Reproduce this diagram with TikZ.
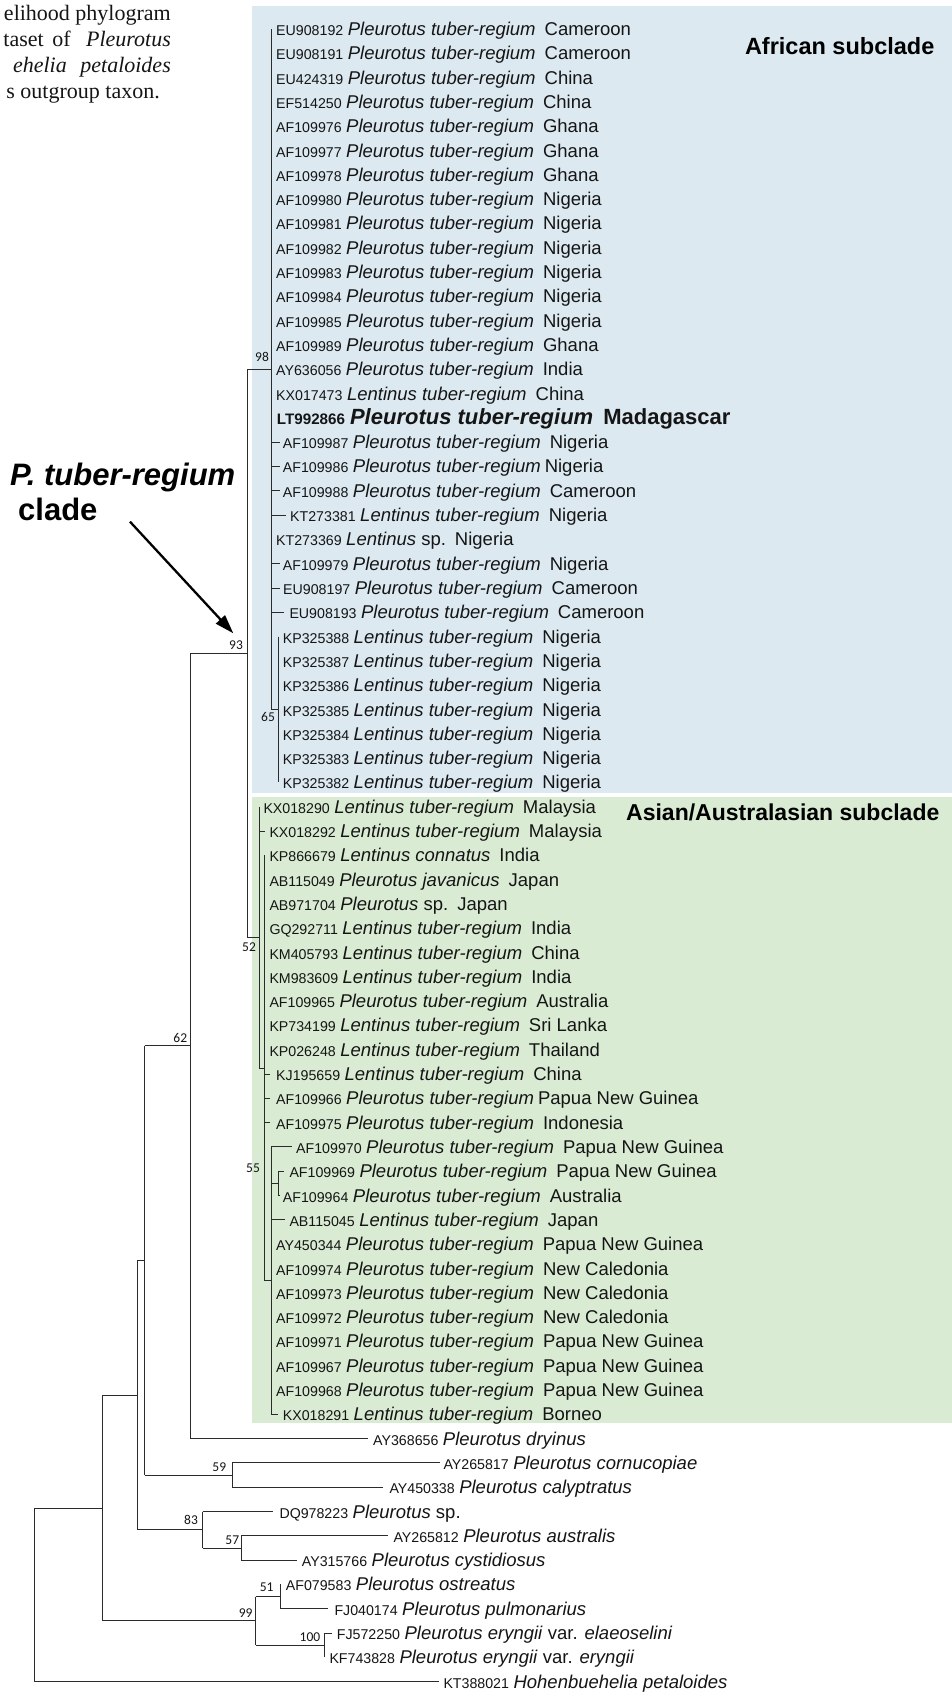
\documentclass[tikz,border=0pt]{standalone}
\usepackage{fontspec}
\setmainfont{Liberation Sans}
\newfontfamily\capfont{Liberation Serif}
\newfontfamily\bsfont{Carlito}
\usetikzlibrary{arrows.meta}
\definecolor{afr}{HTML}{DCE9F1}
\definecolor{asi}{HTML}{DAEBD4}
\definecolor{ln}{HTML}{2B2B2B}
\definecolor{tx}{HTML}{151515}
\newcommand\Y[1]{(29+24.304*(#1))}
\newcommand\acc[1]{{\fontsize{14.2}{14.2}\selectfont #1}\hspace{4.5pt}}
\newcommand\ptr{\textit{Pleurotus tuber-regium}}
\newcommand\ltr{\textit{Lentinus tuber-regium}}
\newcommand\cty[1]{\hspace{9pt}#1}
\newcommand\ctz[1]{\hspace{4pt}#1}
% zero-length leaf: row, xlabel, text
\newcommand\lz[3]{\node[leaflab] (t#1) at (#2,{\Y{#1}}) {#3};}
% leaf with branch: row, x0, x1, xlabel, text
\newcommand\lb[5]{\coordinate (p#1) at (#2,{\Y{#1}});\coordinate (b#1) at (#3,{\Y{#1}});
  \draw[br] (p#1) -- (b#1); \node[leaflab] (t#1) at (#4,{\Y{#1}}) {#5};}
\begin{document}
\begin{tikzpicture}[x=1pt,y=-1pt,
  br/.style={draw=ln,line width=1pt},
  leaflab/.style={anchor=west,inner sep=0pt,text height=13pt,text depth=0pt,text=tx,font=\fontsize{18.5}{18.5}\selectfont},
  bsv/.style={inner sep=0pt,text=tx,font=\bsfont\fontsize{13.5}{13.5}\selectfont},
  captxt/.style={inner sep=0pt,text=tx,font=\capfont\fontsize{22}{22}\selectfont},
  ttl/.style={inner sep=0pt,text=black,anchor=base west,font=\fontsize{23}{23}\selectfont\bfseries}]
\useasboundingbox (0,0) rectangle (952,1692);
\fill[white] (0,0) rectangle (952,1692);
\fill[afr] (251.7,6) rectangle (952,792.7);
\fill[asi] (251.7,796.7) rectangle (952,1423.3);

% caption fragment
\node[captxt,anchor=base east] (c1) at (171,20) {elihood phylogram};
\node[captxt,anchor=base east] (c2a) at (44,46) {taset};
\node[captxt,anchor=base east] (c2b) at (71,46) {of};
\node[captxt,anchor=base east] (c2c) at (171,46) {\itshape Pleurotus};
\node[captxt,anchor=base east] (c3a) at (67,72) {\itshape ehelia};
\node[captxt,anchor=base east] (c3b) at (171,72) {\itshape petaloides};
\node[captxt,anchor=base east] (c4) at (160,98) {s outgroup taxon.};

% subclade titles
\node[ttl,font=\fontsize{23.5}{23.5}\selectfont\bfseries] (afrT) at (744.8,54.6) {African subclade};
\node[ttl] (asiT) at (626,820) {Asian/Australasian subclade};

% clade label and arrow
\node[inner sep=0pt,anchor=base west,font=\fontsize{31}{31}\selectfont\bfseries\itshape] (ptl) at (10,485.5) {P. tuber-regium};
\node[inner sep=0pt,anchor=base west,font=\fontsize{31}{31}\selectfont\bfseries] (cll) at (18,520) {clade};
\coordinate (arS) at (130,521.7);
\coordinate (arE) at (233.3,633.3);
\draw[line width=2.3pt,black,-{Triangle[length=19pt,width=12pt]}] (arS) -- (arE);

% node heights
\pgfmathsetmacro\nF{(\Y{46}+\Y{57})/2}
\pgfmathsetmacro\nX{(\Y{34}+\nF)/2}
\pgfmathsetmacro\nFT{(\Y{32}+\nX)/2}
\pgfmathsetmacro\nSF{(\Y{25}+\Y{31})/2}
\pgfmathsetmacro\nNE{(\Y{0}+\nSF)/2}
\pgfmathsetmacro\nNT{(\nNE+\nFT)/2}
\pgfmathsetmacro\nSX{(\nNT+\Y{58})/2}
\pgfmathsetmacro\nFN{(\Y{59}+\Y{60})/2}
\pgfmathsetmacro\nA{(\nSX+\nFN)/2}
\pgfmathsetmacro\nFS{(\Y{62}+\Y{63})/2}
\pgfmathsetmacro\nET{(\Y{61}+\nFS)/2}
\pgfmathsetmacro\nB{(\nA+\nET)/2}
\pgfmathsetmacro\nFO{(\Y{64}+\Y{65})/2}
\pgfmathsetmacro\nH{(\Y{66}+\Y{67})/2}
\pgfmathsetmacro\nNN{(\nFO+\nH)/2}
\pgfmathsetmacro\nC{(\nB+\nNN)/2}

% internal node coordinates
\coordinate (N65) at (278.3,\nSF);
\coordinate (N98) at (271.5,\nNE);
\coordinate (N93) at (247.3,\nNT);
\coordinate (N52) at (259,\nFT);
\coordinate (NX) at (264.3,\nX);
\coordinate (N55) at (271,\nF);
\coordinate (N62) at (190.7,\nSX);
\coordinate (N59) at (232.3,\nFN);
\coordinate (NA) at (144.7,\nA);
\coordinate (N57) at (241.3,\nFS);
\coordinate (N83) at (202.7,\nET);
\coordinate (NB) at (137.3,\nB);
\coordinate (N51) at (280,\nFO);
\coordinate (N100) at (324.3,\nH);
\coordinate (N99) at (255.7,\nNN);
\coordinate (NC) at (102.3,\nC);
\coordinate (R) at (34,\nC);

% verticals
\draw[br] (271.5,{\Y{0}}) -- (271.5,\nSF);
\draw[br] (278.3,{\Y{25}}) -- (278.3,{\Y{31}});
\draw[br] (247.3,\nNE) -- (247.3,\nFT);
\draw[br] (259,{\Y{32}}) -- (259,\nX);
\draw[br] (264.3,{\Y{34}}) -- (264.3,\nF);
\draw[br] (271,{\Y{46}}) -- (271,{\Y{57}});
\draw[br] (278.3,{\Y{47}}) -- (278.3,{\Y{48}});
\draw[br] (190.7,\nNT) -- (190.7,{\Y{58}});
\draw[br] (232.3,{\Y{59}}) -- (232.3,{\Y{60}});
\draw[br] (144.7,\nSX) -- (144.7,\nFN);
\draw[br] (241.3,{\Y{62}}) -- (241.3,{\Y{63}});
\draw[br] (202.7,{\Y{61}}) -- (202.7,\nFS);
\draw[br] (137.3,\nA) -- (137.3,\nET);
\draw[br] (280,{\Y{64}}) -- (280,{\Y{65}});
\draw[br] (324.3,{\Y{66}}) -- (324.3,{\Y{67}});
\draw[br] (255.7,\nFO) -- (255.7,\nH);
\draw[br] (102.3,\nB) -- (102.3,\nNN);
\draw[br] (34,\nC) -- (34,{\Y{68}});

% stems
\draw[br] (271.5,\nSF) -- (N65);
\draw[br] (247.3,\nNE) -- (N98);
\draw[br] (190.7,\nNT) -- (N93);
\draw[br] (247.3,\nFT) -- (N52);
\draw[br] (259,\nX) -- (NX);
\draw[br] (264.3,\nF) -- (N55);
\coordinate (N69) at (278.3,{(\Y{47}+\Y{48})/2});
\draw[br] (271,{(\Y{47}+\Y{48})/2}) -- (N69);
\draw[br] (144.7,\nSX) -- (N62);
\draw[br] (144.7,\nFN) -- (N59);
\draw[br] (137.3,\nA) -- (NA);
\draw[br] (202.7,\nFS) -- (N57);
\draw[br] (137.3,\nET) -- (N83);
\draw[br] (102.3,\nB) -- (NB);
\draw[br] (255.7,\nFO) -- (N51);
\draw[br] (255.7,\nH) -- (N100);
\draw[br] (102.3,\nNN) -- (N99);
\draw[br] (R) -- (NC);

% African leaves
\lz{0}{276}{\acc{EU908192}\ptr\cty{Cameroon}}
\lz{1}{276}{\acc{EU908191}\ptr\cty{Cameroon}}
\lz{2}{276}{\acc{EU424319}\ptr\cty{China}}
\lz{3}{276}{\acc{EF514250}\ptr\cty{China}}
\lz{4}{276}{\acc{AF109976}\ptr\cty{Ghana}}
\lz{5}{276}{\acc{AF109977}\ptr\cty{Ghana}}
\lz{6}{276}{\acc{AF109978}\ptr\cty{Ghana}}
\lz{7}{276}{\acc{AF109980}\ptr\cty{Nigeria}}
\lz{8}{276}{\acc{AF109981}\ptr\cty{Nigeria}}
\lz{9}{276}{\acc{AF109982}\ptr\cty{Nigeria}}
\lz{10}{276}{\acc{AF109983}\ptr\cty{Nigeria}}
\lz{11}{276}{\acc{AF109984}\ptr\cty{Nigeria}}
\lz{12}{276}{\acc{AF109985}\ptr\cty{Nigeria}}
\lz{13}{276}{\acc{AF109989}\ptr\cty{Ghana}}
\lz{14}{276}{\acc{AY636056}\ptr\cty{India}}
\lz{15}{276}{\acc{KX017473}\ltr\cty{China}}
\lz{16}{276.7}{\bfseries{\fontsize{15.2}{15.2}\selectfont LT992866}\hspace{5pt}{\fontsize{22}{22}\selectfont\itshape Pleurotus tuber-regium\upshape\hspace{10pt}Madagascar}}
\lb{17}{271.5}{280}{282.7}{\acc{AF109987}\ptr\cty{Nigeria}}
\lb{18}{271.5}{280}{282.7}{\acc{AF109986}\ptr\ctz{Nigeria}}
\lb{19}{271.5}{280}{282.7}{\acc{AF109988}\ptr\cty{Cameroon}}
\lb{20}{271.5}{286}{290}{\acc{KT273381}\ltr\cty{Nigeria}}
\lz{21}{276}{\acc{KT273369}\textit{Lentinus} sp.\cty{Nigeria}}
\lb{22}{271.5}{280}{282.7}{\acc{AF109979}\ptr\cty{Nigeria}}
\lb{23}{271.5}{280}{283}{\acc{EU908197}\ptr\cty{Cameroon}}
\lb{24}{271.5}{284}{289.3}{\acc{EU908193}\ptr\cty{Cameroon}}
\lz{25}{282.7}{\acc{KP325388}\ltr\cty{Nigeria}}
\lz{26}{282.7}{\acc{KP325387}\ltr\cty{Nigeria}}
\lz{27}{282.7}{\acc{KP325386}\ltr\cty{Nigeria}}
\lz{28}{282.7}{\acc{KP325385}\ltr\cty{Nigeria}}
\lz{29}{282.7}{\acc{KP325384}\ltr\cty{Nigeria}}
\lz{30}{282.7}{\acc{KP325383}\ltr\cty{Nigeria}}
\lz{31}{282.7}{\acc{KP325382}\ltr\cty{Nigeria}}

% Asian leaves
\lz{32}{263.3}{\acc{KX018290}\ltr\cty{Malaysia}}
\lb{33}{259}{265}{269.3}{\acc{KX018292}\ltr\cty{Malaysia}}
\lz{34}{269.3}{\acc{KP866679}\textit{Lentinus connatus}\cty{India}}
\lz{35}{269.3}{\acc{AB115049}\textit{Pleurotus javanicus}\cty{Japan}}
\lz{36}{269.3}{\acc{AB971704}\textit{Pleurotus} sp.\cty{Japan}}
\lz{37}{269.3}{\acc{GQ292711}\ltr\cty{India}}
\lz{38}{269.3}{\acc{KM405793}\ltr\cty{China}}
\lz{39}{269.3}{\acc{KM983609}\ltr\cty{India}}
\lz{40}{269.3}{\acc{AF109965}\ptr\cty{Australia}}
\lz{41}{269.3}{\acc{KP734199}\ltr\cty{Sri Lanka}}
\lz{42}{269.3}{\acc{KP026248}\ltr\cty{Thailand}}
\lb{43}{264.3}{270}{276}{\acc{KJ195659}\ltr\cty{China}}
\lb{44}{264.3}{270}{276}{\acc{AF109966}\ptr\ctz{Papua New Guinea}}
\lb{45}{264.3}{270}{276}{\acc{AF109975}\ptr\cty{Indonesia}}
\lb{46}{271}{291.7}{296}{\acc{AF109970}\ptr\cty{Papua New Guinea}}
\lb{47}{278.3}{284}{289.3}{\acc{AF109969}\ptr\cty{Papua New Guinea}}
\lb{48}{278.3}{280}{282.7}{\acc{AF109964}\ptr\cty{Australia}}
\lb{49}{271}{285}{289.3}{\acc{AB115045}\ltr\cty{Japan}}
\lz{50}{276}{\acc{AY450344}\ptr\cty{Papua New Guinea}}
\lz{51}{276}{\acc{AF109974}\ptr\cty{New Caledonia}}
\lz{52}{276}{\acc{AF109973}\ptr\cty{New Caledonia}}
\lz{53}{276}{\acc{AF109972}\ptr\cty{New Caledonia}}
\lz{54}{276}{\acc{AF109971}\ptr\cty{Papua New Guinea}}
\lz{55}{276}{\acc{AF109967}\ptr\cty{Papua New Guinea}}
\lz{56}{276}{\acc{AF109968}\ptr\cty{Papua New Guinea}}
\lb{57}{271}{277.7}{282.7}{\acc{KX018291}\ltr\cty{Borneo}}

% outgroup leaves
\lb{58}{190.7}{368}{373}{\acc{AY368656}\textit{Pleurotus dryinus}}
\lb{59}{232.3}{440}{443.3}{\acc{AY265817}\textit{Pleurotus cornucopiae}}
\lb{60}{232.3}{383.3}{389.3}{\acc{AY450338}\textit{Pleurotus calyptratus}}
\lb{61}{202.7}{273.3}{279.3}{\acc{DQ978223}\textit{Pleurotus} sp.}
\lb{62}{241.3}{388.3}{393.3}{\acc{AY265812}\textit{Pleurotus australis}}
\lb{63}{241.3}{296.7}{301.7}{\acc{AY315766}\textit{Pleurotus cystidiosus}}
\lz{64}{285.7}{\acc{AF079583}\textit{Pleurotus ostreatus}}
\lb{65}{280}{328.3}{334.3}{\acc{FJ040174}\textit{Pleurotus pulmonarius}}
\lb{66}{324.3}{331.7}{336.7}{\acc{FJ572250}\textit{Pleurotus eryngii} var. \textit{elaeoselini}}
\lz{67}{329.3}{\acc{KF743828}\textit{Pleurotus eryngii} var. \textit{eryngii}}
\lb{68}{34}{439.3}{443.3}{\acc{KT388021}\textit{Hohenbuehelia petaloides}}

% bootstrap values
\node[bsv] (b98) at (262,357) {98};
\node[bsv] (b93) at (236,645) {93};
\node[bsv] (b65) at (268,717) {65};
\node[bsv] (b52) at (249,946.7) {52};
\node[bsv] (b55) at (253,1168.5) {55};
\node[bsv] (b62) at (180.3,1038.4) {62};
\node[bsv] (b59) at (219.3,1466.7) {59};
\node[bsv] (b83) at (191,1520) {83};
\node[bsv] (b57) at (232.3,1540) {57};
\node[bsv] (b51) at (266.7,1586.7) {51};
\node[bsv] (b99) at (245.7,1612.7) {99};
\node[bsv] (b100) at (310,1637.3) {100};
\end{tikzpicture}
\end{document}
